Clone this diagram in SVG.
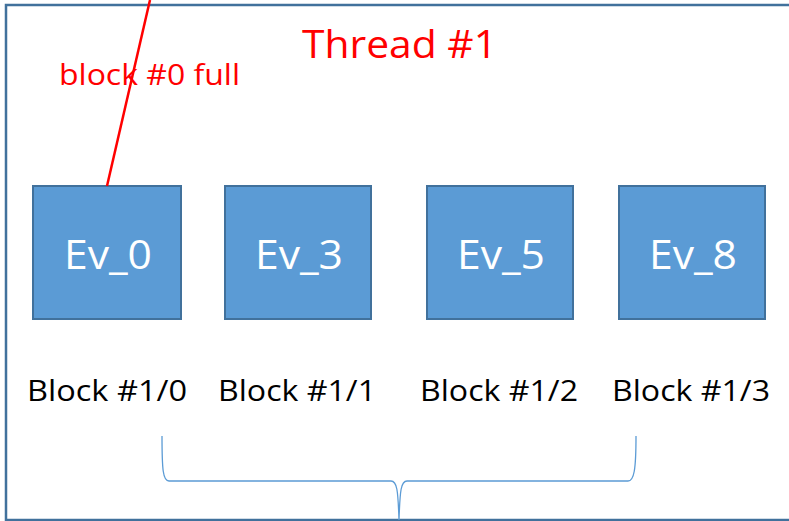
<svg xmlns="http://www.w3.org/2000/svg" width="789" height="521" viewBox="0 0 789 521">
<style>
.frame{fill:#fff;stroke:#41719C;stroke-width:2.5}
.box{fill:#5B9BD5;stroke:#41719C;stroke-width:2}
.ev{font-family:"Open Sans","Liberation Sans",sans-serif;font-size:40px;fill:#fff}
.lbl{font-family:"Open Sans","Liberation Sans",sans-serif;font-size:30px;fill:#000}
.red{font-family:"Open Sans","Liberation Sans",sans-serif;fill:#FF0000}
</style>
<rect x="0" y="0" width="789" height="521" fill="#fff"/>
<g id="thread">
<rect class="frame" x="6" y="5" width="800" height="515"/>
<text class="red" x="302" y="58" font-size="39" textLength="195" lengthAdjust="spacingAndGlyphs">Thread #1</text>
</g>
<g id="ev0"><rect class="box" x="33" y="186" width="148" height="133"/><text class="ev" x="64" y="269" textLength="88" lengthAdjust="spacingAndGlyphs">Ev_0</text></g>
<g id="ev3"><rect class="box" x="225" y="186" width="146" height="133"/><text class="ev" x="255" y="269" textLength="88" lengthAdjust="spacingAndGlyphs">Ev_3</text></g>
<g id="ev5"><rect class="box" x="427" y="186" width="146" height="133"/><text class="ev" x="457" y="269" textLength="88" lengthAdjust="spacingAndGlyphs">Ev_5</text></g>
<g id="ev8"><rect class="box" x="619" y="186" width="146" height="133"/><text class="ev" x="649" y="269" textLength="88" lengthAdjust="spacingAndGlyphs">Ev_8</text></g>
<g id="labels">
<text class="lbl" x="27" y="401" textLength="160" lengthAdjust="spacingAndGlyphs">Block #1/0</text>
<text class="lbl" x="218" y="401" textLength="158" lengthAdjust="spacingAndGlyphs">Block #1/1</text>
<text class="lbl" x="420" y="401" textLength="158" lengthAdjust="spacingAndGlyphs">Block #1/2</text>
<text class="lbl" x="612" y="401" textLength="158" lengthAdjust="spacingAndGlyphs">Block #1/3</text>
</g>
<g id="connectors">
<line x1="150" y1="0" x2="107" y2="186" stroke="#FF0000" stroke-width="2.5"/>
<text class="red" x="59" y="85" font-size="30" textLength="181" lengthAdjust="spacingAndGlyphs">block #0 full</text>
<path d="M162,436 C162,470 163,481 169,481 L391,481 C397,481 398,490 399,520 C400,490 401,481 407,481 L628,481 C634,481 636,470 636,436" fill="none" stroke="#5B9BD5" stroke-width="1.3"/>
</g>
</svg>
